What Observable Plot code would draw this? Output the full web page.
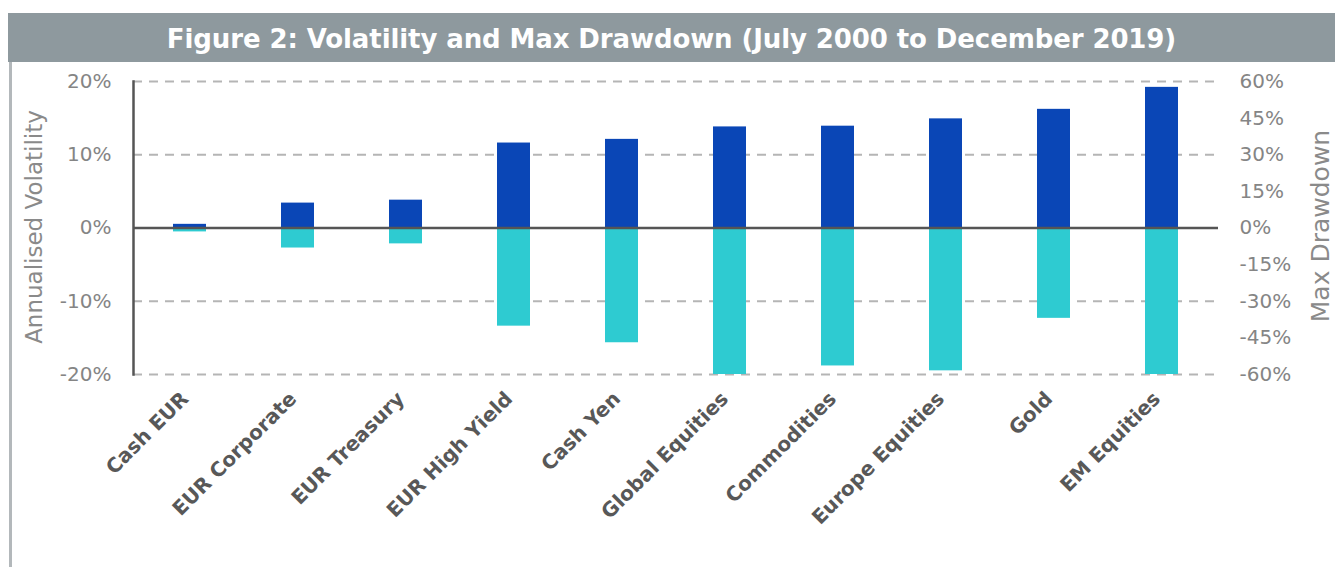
<!DOCTYPE html>
<html>
<head>
<meta charset="utf-8">
<script src="https://cdn.jsdelivr.net/npm/d3@7"></script>
<script src="https://cdn.jsdelivr.net/npm/@observablehq/plot@0.6"></script>
<style>
  html, body { margin: 0; padding: 0; background: #fff; }
  #wrap { position: relative; width: 1335px; height: 567px; overflow: hidden; font-family: "DejaVu Sans", sans-serif; }
  #title { position: absolute; left: 8px; top: 13px; width: 1327px; height: 49px; background: #8e999e; color: #fff;
           font-weight: bold; font-size: 26px; line-height: 53px; text-align: center; letter-spacing: -0.1px; }
  #border { position: absolute; left: 9px; top: 62px; width: 3px; height: 505px; background: #b3b8bb; }
  #chart { position: absolute; left: 0; top: 62px; }
  .ytitle { position: absolute; color: #8a8a8a; font-size: 23px; white-space: nowrap; }
</style>
</head>
<body>
<div id="wrap">
  <div id="title">Figure 2: Volatility and Max Drawdown (July 2000 to December 2019)</div>
  <div id="border"></div>
  <div id="chart"></div>
</div>
<script>
const categories = ["Cash EUR", "EUR Corporate", "EUR Treasury", "EUR High Yield", "Cash Yen",
  "Global Equities", "Commodities", "Europe Equities", "Gold", "EM Equities"];
// Annualised volatility (%), left axis
const volatility = [0.5, 3.4, 3.8, 11.6, 12.1, 13.8, 13.9, 14.9, 16.2, 19.2];
// Max drawdown (%), right axis
const maxDrawdown = [-1.6, -8.2, -6.5, -40.2, -47.0, -60.0, -56.5, -58.5, -37.0, -60.0];
const leftTicks = [-20, -10, 0, 10, 20];
const rightTicks = [60, 45, 30, 15, 0, -15, -30, -45, -60];
const gridTicks = [-20, -10, 10, 20];

const ratio = 3; // right axis = 3 x left axis
const volData = categories.map((c, i) => ({cat: c, v: volatility[i]}));
const ddData = categories.map((c, i) => ({cat: c, v: maxDrawdown[i] / ratio}));

const plot = Plot.plot({
  width: 1335,
  height: 505,
  marginTop: 19,
  marginBottom: 193,
  marginLeft: 133,
  marginRight: 117,
  style: {fontFamily: "'DejaVu Sans', sans-serif", background: "transparent", overflow: "visible"},
  x: {domain: categories, paddingInner: 0.69, paddingOuter: 0.345, label: null},
  y: {domain: [-20, 20], label: null},
  marks: [
    Plot.ruleY(gridTicks, {stroke: "#b5b5b5", strokeWidth: 2, strokeDasharray: "9,7"}),
    Plot.barY(volData, {x: "cat", y1: 0, y2: "v", fill: "#0a46b6"}),
    Plot.barY(ddData, {x: "cat", y1: 0, y2: "v", fill: "#2ecbd1"}),
    Plot.ruleY([0], {stroke: "#555", strokeWidth: 2.5}),
    Plot.frame({anchor: "left", stroke: "#555", strokeWidth: 2.5}),
    Plot.axisY({anchor: "left", ticks: leftTicks, tickSize: 0, tickPadding: 22,
      tickFormat: d => d + "%", fontSize: 20, fill: "#858585", label: null}),
    Plot.axisY({anchor: "right", ticks: rightTicks.map(d => d / ratio), tickSize: 0, tickPadding: 21,
      tickFormat: d => Math.round(d * ratio) + "%", fontSize: 20, fill: "#858585", label: null}),
    Plot.axisX({anchor: "bottom", tickRotate: -45, tickSize: 0, tickPadding: 21,
      fontSize: 20, fontWeight: "bold", fill: "#585858", label: null, dx: -5})
  ]
});
document.getElementById("chart").appendChild(plot);

// axis titles
const wrap = document.getElementById("wrap");
const lt = document.createElement("div");
lt.className = "ytitle";
lt.textContent = "Annualised Volatility";
lt.style.left = "34px"; lt.style.top = "227px";
lt.style.transform = "translate(-50%, -50%) rotate(-90deg)";
wrap.appendChild(lt);
const rt = document.createElement("div");
rt.className = "ytitle";
rt.textContent = "Max Drawdown";
rt.style.fontSize = "25px";
rt.style.left = "1320px"; rt.style.top = "226px";
rt.style.transform = "translate(-50%, -50%) rotate(-90deg)";
wrap.appendChild(rt);
</script>
</body>
</html>
